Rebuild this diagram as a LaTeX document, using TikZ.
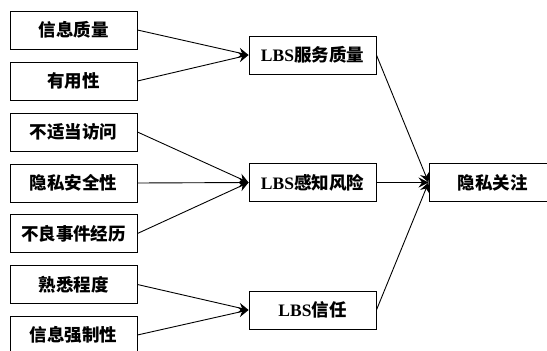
\documentclass[tikz,border=0pt]{standalone}
\usepackage{fontspec}
\setmainfont{Liberation Serif}
\newfontfamily\cjk{Noto Sans CJK SC}
\usetikzlibrary{arrows.meta}

\begin{document}
\begin{tikzpicture}[
    x=1pt, y=1pt,
    line width=0.9pt
]

% =========================
% Styles
% =========================
\tikzstyle{factor} = [
    rectangle, draw,
    fill=white,
    minimum width=127pt,
    minimum height=38pt,
    inner sep=0pt,
    font=\fontsize{17.5}{19}\selectfont\bfseries
]

\tikzstyle{line} = [draw, -{Stealth[length=10pt,width=10pt,inset=3.5pt]}, line width=0.9pt]

\clip (0,0) rectangle (547,-351);
\useasboundingbox (0,0) rectangle (547,-351);

% =========================
% Nodes (FIXED POSITIONS)
% =========================
\node[factor] (quality) at (73.5,-30) {\cjk 信息质量};
\node[factor] (useful) at (73.5,-81) {\cjk 有用性};
\node[factor] (access) at (73.5,-132) {\cjk 不适当访问};
\node[factor] (secure) at (73.5,-183) {\cjk 隐私安全性};
\node[factor] (event) at (73.5,-233.5) {\cjk 不良事件经历};
\node[factor] (familiar) at (73.5,-284.5) {\cjk 熟悉程度};
\node[factor] (force) at (73.5,-335) {\cjk 信息强制性};

\node[factor] (service) at (312.5,-55) {LBS{\cjk 服务质量}};
\node[factor] (risk) at (312.5,-182.5) {LBS{\cjk 感知风险}};
\node[factor] (trust) at (312.5,-310) {LBS{\cjk 信任}};

\node[factor] (concern) at (492.5,-182.5) {\cjk 隐私关注};

% =========================
% Connections
% =========================
\path[line] (quality.east) -- (service.west);
\path[line] (useful.east) -- (service.west);

\path[line] (access.east) -- (risk.west);
\path[line] (secure.east) -- (risk.west);
\path[line] (event.east) -- (risk.west);

\path[line] (familiar.east) -- (trust.west);
\path[line] (force.east) -- (trust.west);

\path[line] (service.east) -- (concern.west);
\path[line] (risk.east) -- (concern.west);
\path[line] (trust.east) -- (concern.west);

\end{tikzpicture}
\end{document}
